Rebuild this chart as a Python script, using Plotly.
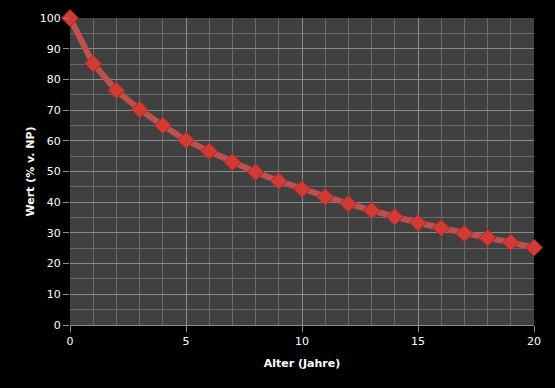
import plotly.graph_objects as go

alter = list(range(0, 21))
wert = [100, 85.1, 76.4, 70.2, 65.0, 60.2, 56.6, 53.0, 49.8, 46.9, 44.3,
        41.7, 39.5, 37.3, 35.2, 33.3, 31.6, 29.8, 28.4, 26.9, 25.2]

fig = go.Figure()
fig.add_trace(go.Scatter(
    x=alter, y=wert, mode="lines+markers",
    line=dict(color="#c0504d", width=6),
    marker=dict(symbol="diamond", size=13, color="#d23a36",
                line=dict(color="#a02a28", width=1)),
    cliponaxis=False, showlegend=False,
))

font = dict(family="DejaVu Sans, Verdana, sans-serif", size=11, color="white")
fig.update_layout(
    width=555, height=388,
    paper_bgcolor="black", plot_bgcolor="#404040",
    margin=dict(l=70, r=21, t=16, b=63),
    font=font,
    xaxis=dict(
        range=[0, 20], dtick=5, tick0=0,
        showgrid=True, gridcolor="#8a8a8a", gridwidth=1,
        minor=dict(dtick=1, showgrid=True, gridcolor="#6a6a6a", gridwidth=1),
        ticks="outside", ticklen=6, tickcolor="#8a8a8a",
        showline=True, linecolor="#8a8a8a", linewidth=1,
        zeroline=False,
        title=dict(text="<b>Alter (Jahre)</b>", font=dict(size=11, color="white"), standoff=12),
    ),
    yaxis=dict(
        range=[0, 100], dtick=10, tick0=0,
        showgrid=True, gridcolor="#8a8a8a", gridwidth=1,
        minor=dict(dtick=5, showgrid=True, gridcolor="#6a6a6a", gridwidth=1),
        ticks="outside", ticklen=6, tickcolor="#8a8a8a",
        showline=False, zeroline=False,
        title=dict(text="<b>Wert (% v. NP)</b>", font=dict(size=11, color="white"), standoff=2),
    ),
)

fig.write_html("out.html")
